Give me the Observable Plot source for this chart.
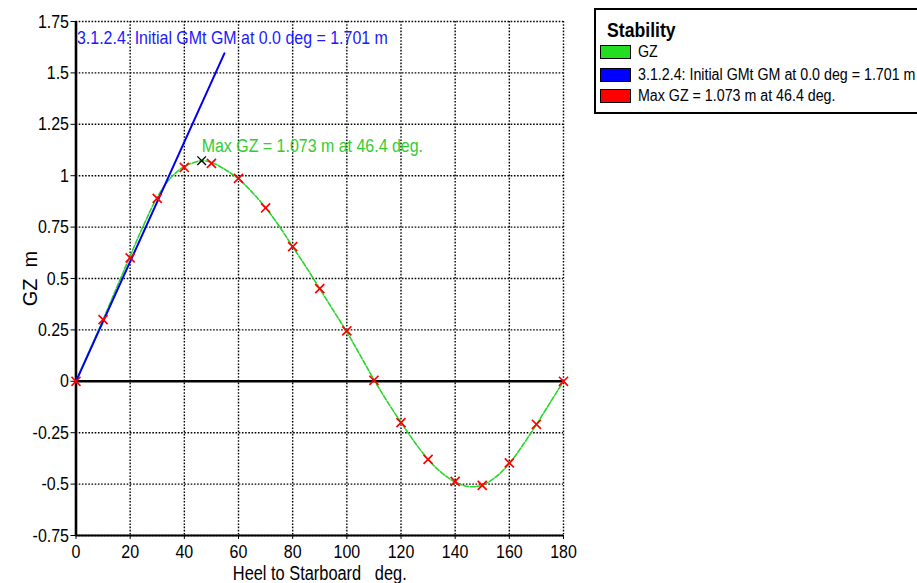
<!DOCTYPE html>
<html><head><meta charset="utf-8">
<script src="https://cdn.jsdelivr.net/npm/d3@7"></script>
<script src="https://cdn.jsdelivr.net/npm/@observablehq/plot@0.6"></script>
<style>
body{margin:0;background:#fff;}
#wrap{position:relative;width:917px;height:583px;overflow:hidden;}
svg text{white-space:pre;}
#legend{position:absolute;left:594px;top:8px;width:340px;height:106px;border:2px solid #000;border-right:none;box-sizing:border-box;font-family:'Liberation Sans',Arial,sans-serif;}
#legend .title{position:absolute;left:11px;top:8px;font-weight:bold;font-size:21px;transform:scaleX(0.84);transform-origin:left center;}
#legend .row{position:absolute;left:4px;height:16px;display:flex;align-items:center;white-space:pre;}
#legend .sw{width:29px;height:12px;border:1.5px solid #000;margin-right:7px;flex:none;}
#legend .lab{font-size:16px;transform:scaleX(0.89);transform-origin:left center;display:inline-block;}
</style></head>
<body><div id="wrap"><div id="chart"></div><div id="legend"></div></div>
<script>
// GZ curve (heel deg, GZ m)
const curveDeg = [0,5,10,15,20,25,30,35,40,45,46.4,50,55,60,65,70,75,80,85,90,95,100,105,110,115,120,125,130,135,140,145,150,155,160,165,170,175,180];
const curveGZ  = [0,0.15,0.30,0.455,0.61,0.76,0.895,0.99,1.045,1.07,1.073,1.065,1.03,0.985,0.92,0.845,0.755,0.655,0.555,0.45,0.345,0.24,0.125,0.008,-0.10,-0.20,-0.295,-0.38,-0.445,-0.49,-0.512,-0.505,-0.465,-0.40,-0.31,-0.21,-0.105,0];
// red cross markers
const markDeg = [0,10,20,30,40,50,60,70,80,90,100,110,120,130,140,150,160,170,180];
const markGZ  = [0,0.30,0.60,0.89,1.04,1.06,0.987,0.843,0.655,0.451,0.245,0.005,-0.201,-0.38,-0.487,-0.506,-0.397,-0.209,0];
// initial GM line
const gmDeg = [0,54.8];
const gmGZ  = [0,1.595];
const gmValue = 1.701;
// max GZ point
const maxDeg = [46.4];
const maxGZ  = [1.073];
// ticks
const xTicks = [0,20,40,60,80,100,120,140,160,180];
const yTicks = [-0.75,-0.5,-0.25,0,0.25,0.5,0.75,1,1.25,1.5,1.75];
// texts
const gmText = "3.1.2.4: Initial GMt GM at 0.0 deg = 1.701 m";
const maxText = "Max GZ = 1.073 m at 46.4 deg.";
const xLabel = "Heel to Starboard   deg.";
const yLabel = "GZ  m";
const legendTitle = "Stability";
const legendLabels = ["GZ", "3.1.2.4: Initial GMt GM at 0.0 deg = 1.701 m", "Max GZ = 1.073 m at 46.4 deg."];
const legendColors = ["#22dd22", "#0000ff", "#ff0000"];

const curve = curveDeg.map((d,i)=>({x:d,y:curveGZ[i]}));
const marks = markDeg.map((d,i)=>({x:d,y:markGZ[i]}));
const gm = gmDeg.map((d,i)=>({x:d,y:gmGZ[i]}));
const mx = maxDeg.map((d,i)=>({x:d,y:maxGZ[i]}));

const chart = Plot.plot({
  width: 917, height: 583,
  marginLeft: 75.5, marginRight: 354, marginTop: 21, marginBottom: 48,
  style: {fontFamily: "'Liberation Sans',Arial,sans-serif", fontSize: "19px", color: "#000", background: "#fff"},
  x: {domain: [0,180]},
  y: {domain: [-0.75,1.75]},
  marks: [
    Plot.gridX(xTicks, {stroke: "#000", strokeOpacity: 1, strokeWidth: 1.4, strokeDasharray: "1.6,1.6"}),
    Plot.gridY(yTicks, {stroke: "#000", strokeOpacity: 1, strokeWidth: 1.4, strokeDasharray: "1.6,1.6"}),
    Plot.ruleY([0], {stroke: "#000", strokeWidth: 2.4}),
    Plot.ruleY([-0.75], {stroke: "#000", strokeWidth: 2}),
    Plot.ruleX([0], {stroke: "#000", strokeWidth: 2.6}),
    Plot.axisX(xTicks, {tickSize: 4, tickPadding: 5, fontSize: 19, tickFormat: d => String(d), label: null}),
    Plot.axisY(yTicks, {tickSize: 5, tickPadding: 2, fontSize: 19, tickFormat: d => String(d), label: null}),
    Plot.text([xLabel], {frameAnchor: "bottom", dy: 38, text: d => d, fontSize: 19.5, lineAnchor: "middle"}),
    Plot.text([yLabel], {frameAnchor: "left", textAnchor: "middle", dx: -45, rotate: -90, text: d => d, fontSize: 20, lineAnchor: "middle", className: "nocondense"}),
    Plot.line(curve, {x: "x", y: "y", stroke: "#2ad42a", strokeWidth: 1.6, strokeDasharray: "5,1.8", curve: "catmull-rom"}),
    Plot.line(gm, {x: "x", y: "y", stroke: "#0000ee", strokeWidth: 2}),
    Plot.dot(marks, {x: "x", y: "y", symbol: "times", r: 4.2, stroke: "#ff0000", strokeWidth: 1.7}),
    Plot.dot(mx, {x: "x", y: "y", symbol: "times", r: 4, stroke: "#000", strokeWidth: 1.4}),
    Plot.text([gmText], {x: gmDeg[0], y: gmValue, text: d => d, textAnchor: "start", dx: 1, dy: 6, fill: "#1a1aff", fontSize: 19}),
    Plot.text([maxText], {x: maxDeg[0], y: maxGZ[0], text: d => d, textAnchor: "start", dx: 0, dy: -15, fill: "#33cc33", fontSize: 19})
  ]
});
document.getElementById("chart").appendChild(chart);

// condense chart texts (narrow typeface look)
chart.querySelectorAll("text").forEach(el => {
  if (el.closest(".nocondense")) return;
  const targets = el.querySelectorAll("tspan").length ? el.querySelectorAll("tspan") : [el];
  targets.forEach(t => {
    const len = t.getComputedTextLength();
    if (len > 0) { t.setAttribute("textLength", (len * 0.84).toFixed(1)); t.setAttribute("lengthAdjust", "spacingAndGlyphs"); }
  });
});

// legend
const lg = document.getElementById("legend");
const t = document.createElement("div"); t.className = "title"; t.textContent = legendTitle; lg.appendChild(t);
const rowTops = [34, 57, 78];
legendLabels.forEach((lab,i)=>{
  const r = document.createElement("div"); r.className = "row"; r.style.top = rowTops[i] + "px";
  const s = document.createElement("div"); s.className = "sw"; s.style.background = legendColors[i];
  const tx = document.createElement("span"); tx.className = "lab"; tx.textContent = lab;
  r.appendChild(s); r.appendChild(tx); lg.appendChild(r);
});
</script></body></html>
